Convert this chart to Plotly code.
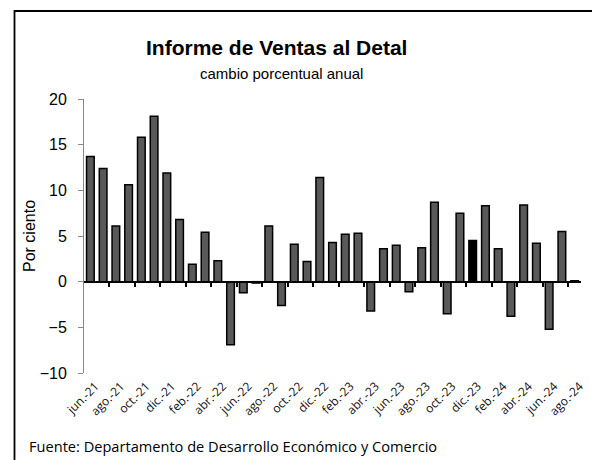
import plotly.graph_objects as go

months = ["jun.-21", "jul.-21", "ago.-21", "sep.-21", "oct.-21", "nov.-21", "dic.-21",
          "ene.-22", "feb.-22", "mar.-22", "abr.-22", "may.-22", "jun.-22", "jul.-22",
          "ago.-22", "sep.-22", "oct.-22", "nov.-22", "dic.-22",
          "ene.-23", "feb.-23", "mar.-23", "abr.-23", "may.-23", "jun.-23", "jul.-23",
          "ago.-23", "sep.-23", "oct.-23", "nov.-23", "dic.-23",
          "ene.-24", "feb.-24", "mar.-24", "abr.-24", "may.-24", "jun.-24", "jul.-24", "ago.-24"]
values = [13.7, 12.4, 6.1, 10.6, 15.8, 18.1, 11.9,
          6.8, 1.9, 5.4, 2.3, -6.9, -1.2, -0.15,
          6.1, -2.6, 4.1, 2.2, 11.4,
          4.3, 5.2, 5.3, -3.2, 3.6, 4.0, -1.1,
          3.7, 8.7, -3.5, 7.5, 4.5,
          8.3, 3.6, -3.8, 8.4, 4.2, -5.2, 5.5, 0.1]
highlight = "dic.-23"

# page body has an 8px margin: figure coords = screen coords - 8
OFF = 8
W, H = 600, 460
L, R, T, B = 84 - OFF, 27, 99 - OFF, 95
pw, ph = W - L - R, H - T - B

def px(x):
    return (x - OFF - L) / pw

def py(y):
    return (H - B - (y - OFF)) / ph

idx = list(range(len(months)))
bar_colors = ["#000000" if m == highlight else "#595959" for m in months]
label_vals = idx[::2]
label_text = months[::2]
boundary_ticks = [i + 0.5 for i in idx[1:-1:2]]

fig = go.Figure()
fig.add_trace(go.Bar(x=idx, y=values, width=0.6,
                     marker=dict(color=bar_colors, line=dict(color="#000000", width=1.5)),
                     showlegend=False, hoverinfo="skip"))
fig.add_trace(go.Scatter(x=idx, y=values, xaxis="x2", mode="markers",
                         marker=dict(opacity=0), showlegend=False, hoverinfo="skip"))

fig.update_layout(
    width=W, height=H,
    margin=dict(l=L, r=R, t=T, b=B),
    paper_bgcolor="white", plot_bgcolor="white",
    xaxis=dict(range=[-0.5, len(months) - 0.5], tickmode="array", tickvals=label_vals,
               ticktext=label_text, tickangle=-45, showline=False, ticks="",
               showgrid=False, zeroline=False, ticklabelshift=5, ticklabelstandoff=3,
               tickfont=dict(family="Open Sans", size=12, color="#111111")),
    xaxis2=dict(range=[-0.5, len(months) - 0.5], overlaying="x", anchor="free",
                position=1 / 3, side="bottom",
                tickmode="array", tickvals=boundary_ticks, showticklabels=False,
                ticks="outside", ticklen=4, tickwidth=1.5, tickcolor="#000000",
                showline=True, linecolor="#000000", linewidth=2,
                showgrid=False, zeroline=False),
    yaxis=dict(range=[-10, 20], tickvals=[-10, -5, 0, 5, 10, 15, 20],
               showline=True, linecolor="#888888", linewidth=1,
               ticks="outside", ticklen=5, tickcolor="#888888",
               showgrid=False, zeroline=False, ticklabelstandoff=8,
               tickfont=dict(family="Liberation Sans, Arial", size=16, color="#000000"),
               title=dict(text="Por ciento", standoff=0,
                          font=dict(family="Liberation Sans, Arial", size=16, color="#000000"))),
    annotations=[
        dict(text="<b>Informe de Ventas al Detal</b>", x=px(276), y=py(47),
             xref="paper", yref="paper", showarrow=False, xanchor="center", yanchor="middle",
             font=dict(family="Liberation Sans, Arial", size=21, color="#000000")),
        dict(text="cambio porcentual anual", x=px(281), y=py(74),
             xref="paper", yref="paper", showarrow=False, xanchor="center", yanchor="middle",
             font=dict(family="Liberation Sans, Arial", size=15, color="#000000")),
        dict(text="Fuente: Departamento de Desarrollo Económico y Comercio", x=px(27), y=py(446),
             xref="paper", yref="paper", showarrow=False, xanchor="left", yanchor="middle",
             font=dict(family="Open Sans", size=14.6, color="#000000")),
    ],
    shapes=[dict(type="rect", xref="paper", yref="paper",
                 x0=px(14.5), y0=py(490), x1=px(640), y1=py(11),
                 line=dict(color="#000000", width=1.8), fillcolor="rgba(0,0,0,0)", layer="above")],
)

fig.write_html("out.html")
